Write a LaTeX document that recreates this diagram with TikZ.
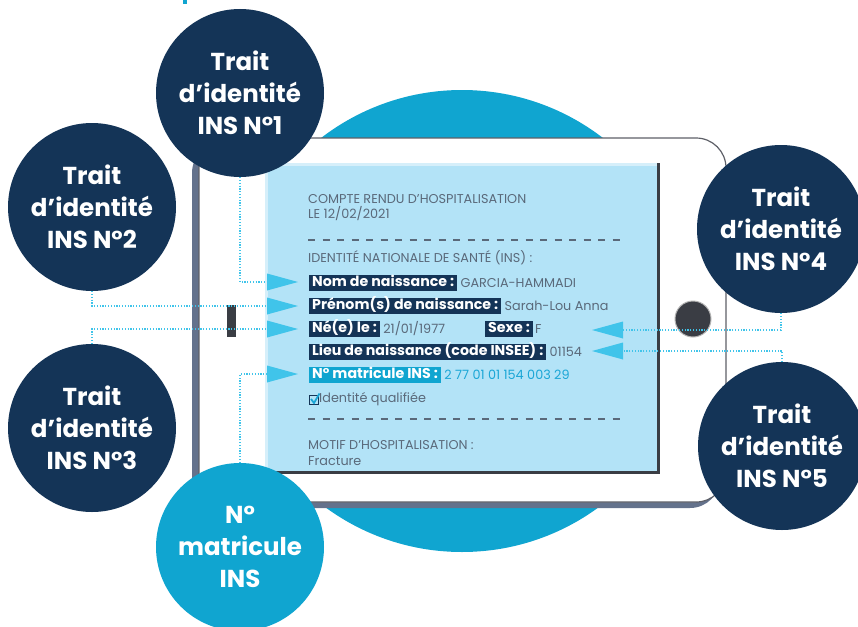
\documentclass[tikz,border=0pt]{standalone}
\usepackage{fontspec}
\setmainfont{Poppins}
\usetikzlibrary{positioning}
\definecolor{cNavy}{RGB}{20,52,87}
\definecolor{cCercle}{RGB}{16,165,208}
\definecolor{cEcran}{RGB}{179,227,247}
\definecolor{cBordEcran}{RGB}{214,239,250}
\definecolor{cFleche}{RGB}{64,196,234}
\definecolor{cOmbre}{RGB}{100,114,140}
\definecolor{cCadre}{RGB}{94,96,104}
\definecolor{cSombre}{RGB}{58,61,68}
\definecolor{cTexte}{RGB}{90,105,122}
\definecolor{cNumero}{RGB}{26,166,214}

% fleches vers la droite / vers la gauche (base au point nomme)
\newcommand{\flecheD}[2]{\coordinate (#1) at #2;
  \fill[cFleche] (#1) ++(0,-8.5) -- ++(31,8.5) -- ++(-31,8.5) -- cycle;}
\newcommand{\flecheG}[2]{\coordinate (#1) at #2;
  \fill[cFleche] (#1) ++(0,-8.5) -- ++(-31,8.5) -- ++(31,8.5) -- cycle;}

\begin{document}
\begin{tikzpicture}[x=1pt, y=-1pt,
    bulle/.style={circle, fill=cNavy, minimum size=168pt, inner sep=0pt, align=center,
      text=white, font=\fontsize{24.5}{32}\selectfont\bfseries},
    champ/.style={fill=cNavy, text=white, inner xsep=3pt, inner ysep=0pt, text height=11.5pt,
      text depth=4.5pt, anchor=west, font=\fontsize{14.2}{14}\selectfont\bfseries},
    valeur/.style={text=cTexte, inner sep=1pt, font=\fontsize{12.8}{13}\selectfont},
    texte/.style={text=cTexte, inner sep=0pt, anchor=west, font=\fontsize{12.8}{15}\selectfont},
    lien/.style={cFleche, line width=1.2pt, dash pattern=on 1.2pt off 1.6pt},
    tiret/.style={cTexte, line width=1.3pt, dash pattern=on 7pt off 7.5pt}]
  \useasboundingbox (0,0) rectangle (858,626);
  \fill[cCercle] (183,0) rectangle (186.5,4);
  \fill[cCercle] (462,321) circle (231);

  % tablette
  \fill[cOmbre, rounded corners=30] (192,143) rectangle (720,508);
  \filldraw[fill=white, draw=cCadre, line width=1.2pt, rounded corners=30] (199,138) rectangle (726,502);
  \fill[cSombre] (265,163) rectangle (660,474);
  \fill[cBordEcran] (265,163) rectangle (657,471);
  \fill[cEcran] (268,166) rectangle (657,471);
  \fill[cSombre] (227,305) rectangle (236,337);
  \filldraw[fill=cSombre, draw=gray!60, line width=1pt] (693,319) circle (18);

  % compte rendu
  \node[texte] (titre) at (308,199) {COMPTE RENDU D’HOSPITALISATION};
  \node[texte] (date) at (308,214) {LE 12/02/2021};
  \draw[tiret] (308,240) -- (622,240);
  \node[texte] (ins) at (308,258) {IDENTITÉ NATIONALE DE SANTÉ (INS) :};

  \node[champ] (nom) at (309,283) {Nom de naissance :};
  \node[valeur, right=2pt of nom] (nomv) {GARCIA-HAMMADI};
  \node[champ] (prenom) at (309,306) {Prénom(s) de naissance :};
  \node[valeur, right=2pt of prenom] (prenomv) {Sarah-Lou Anna};
  \node[champ] (ne) at (309,329) {Né(e) le :};
  \node[valeur, right=2pt of ne] (nev) {21/01/1977};
  \node[champ] (sexe) at (485,329) {Sexe :};
  \node[valeur, right=1pt of sexe] (sexev) {F};
  \node[champ] (lieu) at (309,352) {Lieu de naissance (code INSEE) :};
  \node[valeur, right=2pt of lieu] (lieuv) {01154};
  \node[champ, fill=cCercle] (matr) at (309,375) {N° matricule INS :};
  \node[valeur, text=cNumero, right=2pt of matr] (matrv) {2 77 01 01 154 003 29};

  \draw[cNavy, line width=1pt] (309.5,395.5) rectangle (318,404);
  \draw[cNumero, line width=1.8pt] (311,399) -- (314,403) -- (319.5,393.5);
  \node[texte] (qualif) at (319,399.5) {Identité qualifiée};
  \draw[tiret] (308,419) -- (622,419);
  \node[texte] (motif) at (308,445) {MOTIF D’HOSPITALISATION :};
  \node[texte] (fract) at (308,461) {Fracture};

  % fleches
  \flecheD{p1}{(267,282)}
  \flecheD{p2}{(267,306)}
  \flecheD{p3}{(267,329)}
  \flecheD{p6}{(267,374)}
  \flecheG{p4}{(623,330)}
  \flecheG{p5}{(623,351)}

  % bulles
  \node[bulle] (b1) at (240,93) {Trait\\d’identité\\INS N°1};
  \node[bulle] (b2) at (92,207) {Trait\\d’identité\\INS N°2};
  \node[bulle] (b3) at (92,428) {Trait\\d’identité\\INS N°3};
  \node[bulle] (b4) at (781,229) {Trait\\d’identité\\INS N°4};
  \node[bulle] (b5) at (782,446) {Trait\\d’identité\\INS N°5};
  \node[bulle, fill=cCercle] (b6) at (240,547) {N°\\matricule\\INS};

  \draw[lien] (b1.south) |- (p1);
  \draw[lien] (b2.south) |- (p2);
  \draw[lien] (b3.north) |- (p3);
  \draw[lien] (b6.north) |- (p6);
  \draw[lien] (b4.south) |- (p4);
  \draw[lien] (b5.north) |- (p5);
\end{tikzpicture}
\end{document}
